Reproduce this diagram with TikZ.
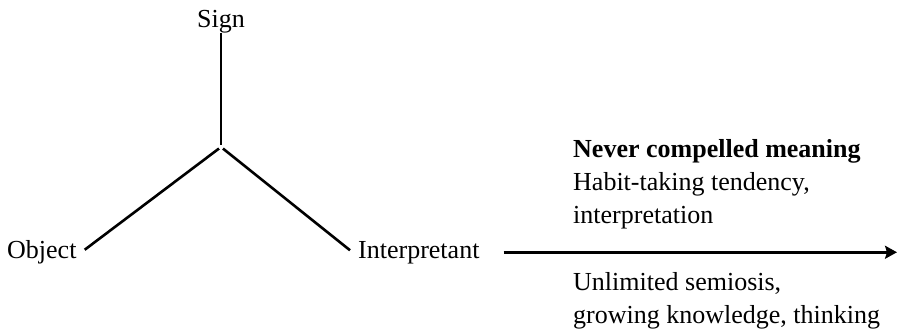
\documentclass[tikz,border=0pt]{standalone}
\usepackage{fontspec}
\setmainfont{Liberation Serif}
\usetikzlibrary{arrows.meta, positioning, calc}
\tikzset{
  lbl/.style  = {inner sep=0pt, font=\fontsize{26}{33}\selectfont},
  note/.style = {inner sep=0pt, align=left, anchor=base west,
                 font=\fontsize{26}{33}\selectfont},
  ln/.style   = {line width=2.6pt, black},
  arr/.style  = {-{Stealth[length=12pt, width=13pt, inset=2pt]},
                 line width=2.6pt, black}
}

\begin{document}
\begin{tikzpicture}[x=1pt, y=-1pt]
  \useasboundingbox (0,0) rectangle (898,330);
  % triad
  \node[lbl, anchor=base] (sign) at (221,27) {Sign};
  \node[lbl, anchor=base west] (object) at (7,258) {Object};
  \node[lbl, anchor=base west] (interp) at (358,258) {Interpretant};
  \coordinate (hub) at (221,147);
  \coordinate (tip) at (897,252);
  \draw[ln, shorten >=2.5pt] (sign) -- (sign |- hub);
  \draw[ln, shorten <=2.5pt] (hub) -- ([shift={(8,-2)}]object.east);
  \draw[ln, shorten <=2.5pt] (hub) -- ([shift={(-8,-2)}]interp.west);
  % arrow and notes (base = last line)
  \draw[arr] ([xshift=24pt]interp.east) -- (interp.east -| tip);
  \node[note] (never) at (573,223)
    {\textbf{Never compelled meaning}\\Habit-taking tendency,\\interpretation};
  \node[note] (unlim) at (573,323)
    {Unlimited semiosis,\\growing knowledge, thinking};
\end{tikzpicture}
\end{document}
